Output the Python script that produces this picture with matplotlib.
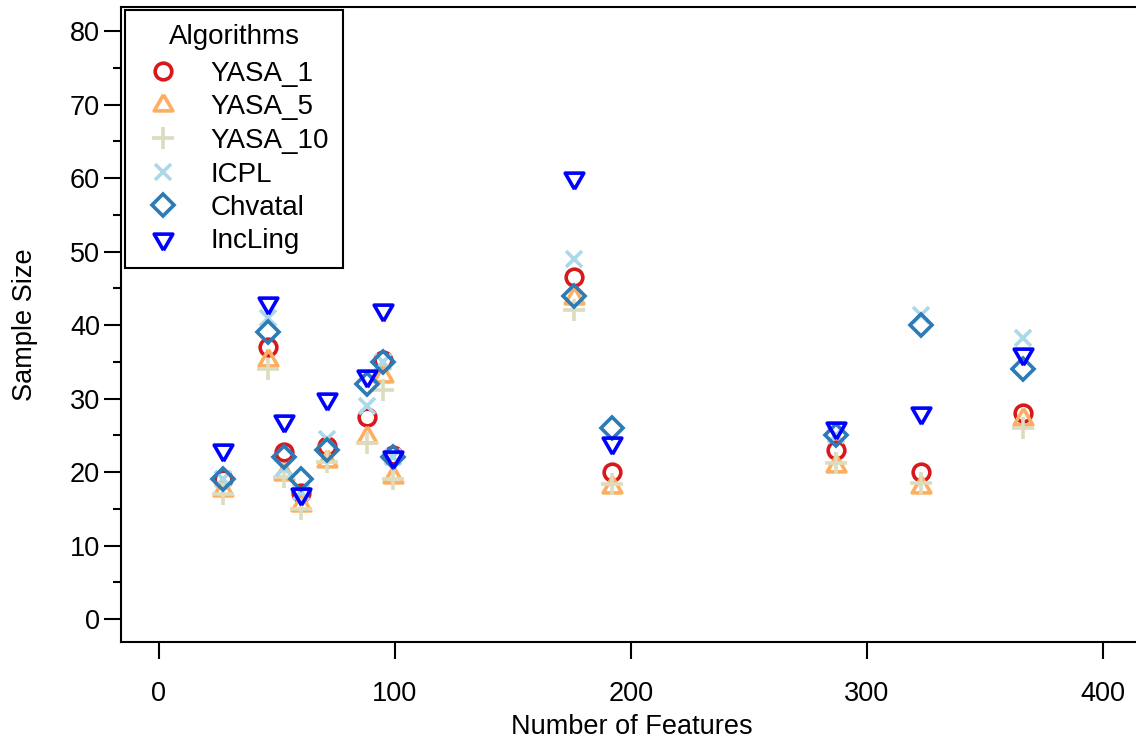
import numpy as np
import matplotlib
matplotlib.use('Agg')
import matplotlib.pyplot as plt

plt.rcParams['font.family'] = ['Liberation Sans', 'DejaVu Sans']

# Number of features per feature model
features = [27, 46, 53, 60, 71, 88, 95, 99, 176, 192, 287, 323, 366]

# Sample sizes per algorithm
yasa_1 = [19, 37, 22.7, 17.2, 23.6, 27.5, 35.3, 22.3, 46.5, 20, 23, 20, 28]
yasa_5 = [17.5, 35.2, 19.7, 15.5, 21.5, 24.7, 33.1, 19.3, 43.7, 18, 20.8, 18, 27.2]
yasa_10 = [17, 34, 19.3, 15, 21.4, 24, 31.2, 19, 42, 18.4, 21.2, 18.5, 26]
icpl = [19, 41, 20.5, 17.3, 24.5, 29, 35, 22, 49, np.nan, 25, 41.4, 38.2]
chvatal = [19, 39, 22, 19, 23, 32, 35, 22, 44, 26, 25, 40, 34]
incling = [23, 43, 27, 17, 30, 33, 42, 22, 60, 24, 26, 28, 36]

names = ['YASA_1', 'YASA_5', 'YASA_10', 'ICPL', 'Chvatal', 'IncLing']
colors = ['#d7191c', '#fdae61', '#dcdcbe', '#abd9e9', '#2c7bb6', '#0000ff']

# equilateral triangles centred on the centroid (like R's pch 2 / 6)
tri_up = [(0, 1.155), (-1, -0.577), (1, -0.577), (0, 1.155)]
tri_down = [(0, -1.155), (-1, 0.577), (1, 0.577), (0, -1.155)]
markers = ['o', tri_up, '+', 'x', 'D', tri_down]
sizes = [12, 15.5, 16, 11.5, 11, 15.5]

series = [yasa_1, yasa_5, yasa_10, icpl, chvatal, incling]

fig = plt.figure(figsize=(11.36, 7.44), dpi=100)
ax = fig.add_axes([121/1136, 102/744, 1 - 121/1136, 635/744])

for ys, name, c, m, s in zip(series, names, colors, markers, sizes):
  ax.plot(features, ys, linestyle='none', marker=m, markersize=s,
          markerfacecolor='none', markeredgecolor=c, markeredgewidth=2.6,
          label=name)

ax.set_xlim(-16.1, 414)
ax.set_ylim(-3.13, 83.27)
ax.set_xticks([0, 100, 200, 300, 400])
ax.set_yticks(np.arange(0, 81, 10))
ax.set_yticks(np.arange(5, 81, 10), minor=True)

for sp in ax.spines.values():
  sp.set_linewidth(1.5)
ax.spines['right'].set_visible(False)

ax.tick_params(axis='both', which='major', direction='out', length=12, width=1.5,
               labelsize=19.5)
ax.tick_params(axis='x', pad=16)
ax.tick_params(axis='y', pad=3)
ax.tick_params(axis='y', which='minor', direction='out', length=5.5, width=1.5)
ax.tick_params(axis='x', which='minor', bottom=False)

ax.set_xlabel('Number of Features', fontsize=19.5)
ax.set_ylabel('Sample Size', fontsize=19.5)
ax.xaxis.set_label_coords(0.503, -0.134)
ax.yaxis.set_label_coords(-0.0946, 0.499)
ax.xaxis.label.set_va('center')
ax.yaxis.label.set_va('center')

leg = ax.legend(title='Algorithms', loc='upper left',
                bbox_to_anchor=(125/1136, 1 - 10/744), bbox_transform=fig.transFigure,
                fontsize=20, title_fontsize=20, numpoints=1, fancybox=False,
                borderaxespad=0, borderpad=0.5, handlelength=1.73,
                handletextpad=0.86, labelspacing=0.27, framealpha=1)
leg.get_frame().set_edgecolor('black')
leg.get_frame().set_linewidth(1.5)
leg._legend_box.sep = 8  # gap between title and entries

plt.savefig('out.png', dpi=100)
